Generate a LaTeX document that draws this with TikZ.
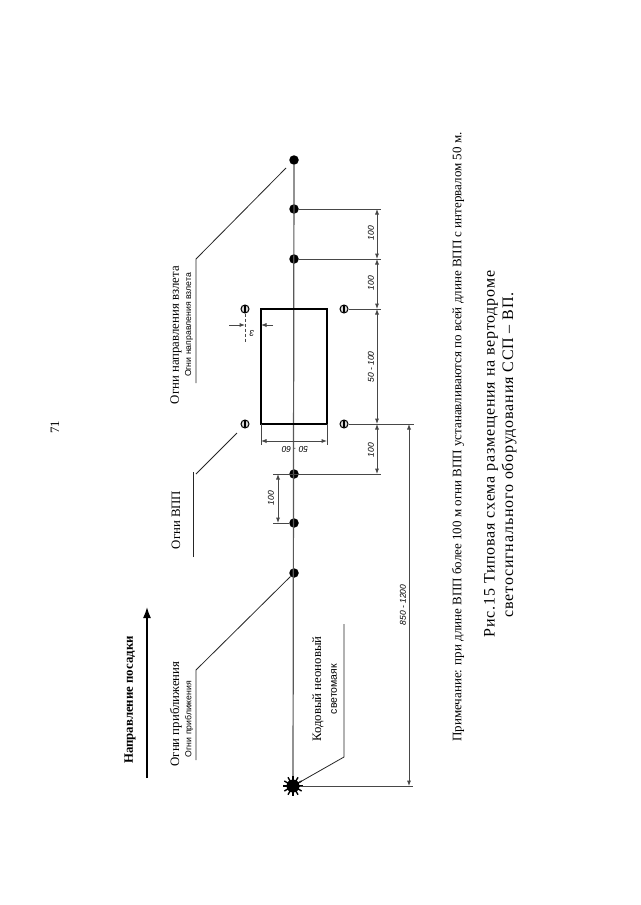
\documentclass[tikz,border=0pt]{standalone}
\usepackage{fontspec}
\setmainfont{Liberation Serif}
\setsansfont{Liberation Sans}
\usetikzlibrary{arrows.meta}
\tikzset{
  x=1pt,y=-1pt,
  tip/.tip={Latex[length=5.5pt,width=4.2pt]},
  lamp/.style={circle,fill=black,inner sep=0pt,minimum size=9.5pt},
  sidelamp/.style={circle,draw=black,line width=1pt,fill=black!15,inner sep=0pt,minimum size=8pt,
    path picture={\draw[line width=1.1pt] (path picture bounding box.north) -- (path picture bounding box.south);}},
  axisline/.style={draw=black!65,line width=1.2pt},
  leader/.style={draw=black!85,line width=0.8pt},
  ext/.style={draw=black!72,line width=1pt},
  dimline/.style={draw=black!72,line width=1pt,tip-tip},
  bigtxt/.style={rotate=90,inner sep=0pt,font=\rmfamily\fontsize{12.8}{14}\selectfont,align=center},
  smalltxt/.style={rotate=90,inner sep=0pt,font=\sffamily\fontsize{8.7}{10}\selectfont},
  dimtxt/.style={rotate=90,inner sep=0pt,font=\sffamily\itshape\fontsize{8.5}{10}\selectfont},
  flipdim/.style={rotate=180,inner sep=0pt,font=\sffamily\itshape\fontsize{8.5}{10}\selectfont},
}
\begin{document}
\begin{tikzpicture}
\useasboundingbox (0,0) rectangle (640,905);
\fill[white] (0,0) rectangle (640,905);

% centre line lamps
\node[lamp] (t1) at (294,160) {};
\node[lamp] (t2) at (294,209) {};
\node[lamp] (t3) at (294,259) {};
\node[lamp] (a1) at (294,474) {};
\node[lamp] (a2) at (294,523) {};
\node[lamp] (a3) at (294,573) {};
\coordinate (beacon) at (293,786);
\draw[axisline] (t1) -- (beacon);

% runway
\draw[line width=1.6pt,line join=miter] (261,309) rectangle (327,424);
\coordinate (rwNW) at (261,309); \coordinate (rwSW) at (261,424);
\coordinate (rwSE) at (327,424);

% runway lamps
\node[sidelamp] (l1) at (245,309) {};
\node[sidelamp] (l2) at (245,424) {};
\node[sidelamp] (r1) at (344,309) {};
\node[sidelamp] (r2) at (344,424) {};

% beacon star
\foreach \a in {0,30,...,330}{\draw[line width=1.4pt] (beacon) -- ++(\a:10);}
\node[circle,fill=black,inner sep=0pt,minimum size=13pt] (star) at (beacon) {};

% extension lines
\coordinate (e1) at (381,209); \coordinate (e2) at (381,259);
\coordinate (e3) at (381,309); \coordinate (e4) at (381,424);
\coordinate (e5) at (381,474); \coordinate (e6) at (273,474);
\coordinate (e7) at (273,523); \coordinate (e8) at (414,424);
\coordinate (e9) at (413,786);
\draw[ext] (t2) -- (e1);
\draw[ext] (t3) -- (e2);
\draw[ext] (r1) -- (e3);
\draw[ext] (r2) -- (e8);
\draw[ext] (e6) -- (e5);
\draw[ext] (e7) -- (a2);
\draw[ext] (star) -- (e9);
\draw[ext] (rwSW) -- (261,445);
\draw[ext] (rwSE) -- (327,445);
\draw[ext,densely dashed] (l1) -- (245,342);

% dimensions
\coordinate (d1) at (377,209); \coordinate (d2) at (377,259);
\coordinate (d3) at (377,309); \coordinate (d4) at (377,424);
\coordinate (d5) at (377,474);
\draw[dimline] (d1) -- (d2);
\draw[dimline] (d2) -- (d3);
\draw[dimline] (d3) -- (d4);
\draw[dimline] (d4) -- (d5);
\coordinate (d6) at (278,474); \coordinate (d7) at (278,523);
\draw[dimline] (d6) -- (d7);
\coordinate (d8) at (409,424); \coordinate (d9) at (409,786);
\draw[dimline] (d8) -- (d9);
\coordinate (d10) at (261,441); \coordinate (d11) at (327,441);
\draw[dimline] (d10) -- (d11);
% dimension "3"
\coordinate (w1) at (229,325); \coordinate (w2) at (245,325);
\coordinate (w3) at (261,325); \coordinate (w4) at (273,325);
\draw[ext,-tip] (w1) -- (w2);
\draw[ext,-tip] (w4) -- (w3);

\node[dimtxt] (n1) at (371,233) {100};
\node[dimtxt] (n2) at (371,283) {100};
\node[dimtxt] (n3) at (371,367) {50 - 100};
\node[dimtxt] (n4) at (371,450) {100};
\node[dimtxt] (n5) at (271,498) {100};
\node[dimtxt] (n6) at (403,605) {850 - 1200};
\node[flipdim] (n7) at (295,449) {50 · 60};
\node[flipdim] (n8) at (252,333) {3};

% leaders
\coordinate (u1a) at (196,760); \coordinate (u1b) at (196,670);
\coordinate (u2a) at (193,557); \coordinate (u2b) at (193,472);
\coordinate (u3a) at (196,383); \coordinate (u3b) at (196,259);
\coordinate (u4a) at (344,624); \coordinate (u4b) at (344,757);
\coordinate (q2) at (196,474); \coordinate (p2) at (237,433); \coordinate (p3) at (286,168);
\draw[leader] (u1a) -- (u1b) -- (a3);
\draw[leader] (u2a) -- (u2b);
\draw[leader] (q2) -- (p2);
\draw[leader] (u3a) -- (u3b) -- (p3);
\draw[leader] (u4a) -- (u4b) -- (star);

% landing direction
\coordinate (h1) at (147,778); \coordinate (h2) at (147,607);
\draw[line width=1.5pt,-{Latex[length=11pt,width=8pt]}] (h1) -- (h2);

% labels
\node[bigtxt,font=\rmfamily\bfseries\fontsize{12.8}{14}\selectfont] (t0) at (130,700) {Направление посадки};
\node[bigtxt] (lab1) at (176,714) {Огни приближения};
\node[smalltxt] (lab1s) at (189,719) {Огни приближения};
\node[bigtxt] (lab2) at (176,520) {Огни ВПП};
\node[bigtxt] (lab3) at (176,335) {Огни направления взлета};
\node[smalltxt] (lab3s) at (189,325) {Огни направления взлета};
\node[bigtxt] (lab4) at (318,689) {Кодовый неоновый};
\node[smalltxt,font=\sffamily\fontsize{10.5}{12}\selectfont] (lab4s) at (334,689) {светомаяк};

\node[bigtxt] (page) at (55,427) {71};
\node[rotate=90,inner sep=0pt,font=\rmfamily\fontsize{13}{15}\selectfont] (note) at (458,437) {Примечание: при длине ВПП более 100 м огни ВПП устанавливаются по всей длине ВПП с интервалом 50 м.};
\node[rotate=90,inner sep=0pt,font=\rmfamily\fontsize{16}{18}\selectfont\addfontfeatures{LetterSpace=5}] (cap1) at (491,454) {Рис.15 Типовая схема размещения на вертодроме};
\node[rotate=90,inner sep=0pt,font=\rmfamily\fontsize{16}{18}\selectfont\addfontfeatures{LetterSpace=5}] (cap2) at (509,455) {светосигнального оборудования ССП – ВП.};
\end{tikzpicture}
\end{document}
